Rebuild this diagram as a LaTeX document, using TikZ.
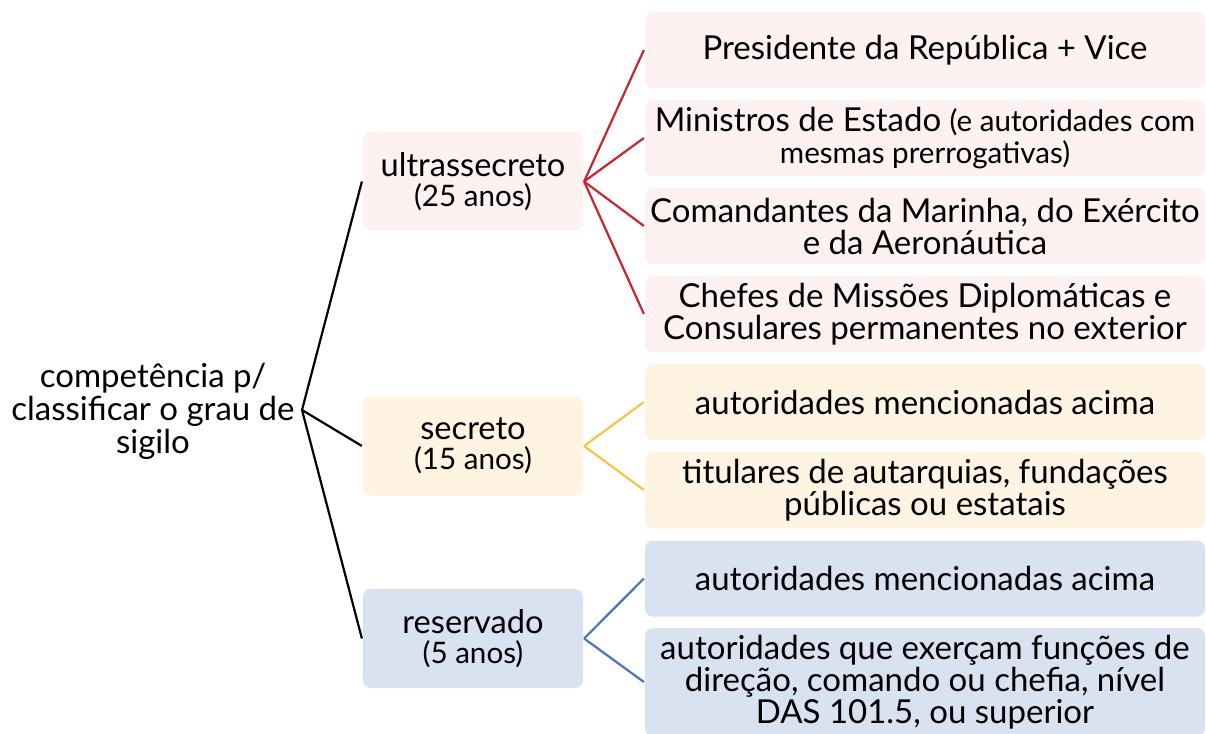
\documentclass[tikz,border=0pt]{standalone}
\usepackage{fontspec}
\setmainfont{Lato}
\usetikzlibrary{positioning}
\definecolor{pinkfill}{HTML}{FDF1F1}
\definecolor{yellowfill}{HTML}{FEF4E1}
\definecolor{bluefill}{HTML}{D9E2F0}
\definecolor{redline}{HTML}{C8262C}
\definecolor{yellowline}{HTML}{F4C443}
\definecolor{blueline}{HTML}{4C72BE}
\newcommand{\smalltxt}{\fontsize{14.8}{15}\selectfont}
\tikzset{
  gradebox/.style={rounded corners=4pt, minimum width=110pt, minimum height=49.5pt, align=center, inner sep=0pt, font=\fontsize{16.3}{15}\selectfont},
  leafbox/.style={rounded corners=4pt, minimum width=280pt, minimum height=38pt, align=center, inner sep=0pt, font=\fontsize{16.5}{16}\selectfont},
}
\begin{document}
\begin{tikzpicture}[x=0.5pt,y=-0.5pt, line width=1.1pt]
		%%%%% START %%%%%
		\useasboundingbox (0, 0) rectangle (1206, 734);

		\node[align=center, font=\fontsize{16.5}{16.5}\selectfont] (root) at (153, 411) {competência p/\\classificar o grau de\\sigilo};
		\coordinate (fork) at (302, 410);

		\node[gradebox, fill=pinkfill] (ultra) at (473, 181.5) {ultrassecreto\\{\smalltxt (25 anos)}};
		\node[gradebox, fill=yellowfill] (secr) at (473, 446) {secreto\\{\smalltxt (15 anos)}};
		\node[gradebox, fill=bluefill] (reserv) at (473, 638.5) {reservado\\{\smalltxt (5 anos)}};

		\node[leafbox, fill=pinkfill] (pres) at (925, 50) {Presidente da República + Vice};
		\node[leafbox, fill=pinkfill] (minis) at (925, 138) {Ministros de Estado {\smalltxt (e autoridades com}\\{\smalltxt mesmas prerrogativas)}};
		\node[leafbox, fill=pinkfill] (coman) at (925, 226) {Comandantes da Marinha, do Exército\\e da Aeronáutica};
		\node[leafbox, fill=pinkfill] (chefes) at (925, 314) {Chefes de Missões Diplomáticas e\\Consulares permanentes no exterior};

		\node[leafbox, fill=yellowfill] (acimaA) at (925, 402) {autoridades mencionadas acima};
		\node[leafbox, fill=yellowfill] (titul) at (925, 490) {titulares de autarquias, fundações\\públicas ou estatais};

		\node[leafbox, fill=bluefill] (acimaB) at (925, 578.5) {autoridades mencionadas acima};
		\node[leafbox, fill=bluefill, minimum height=54pt] (dasniv) at (925, 682) {autoridades que exerçam funções de\\direção, comando ou chefia, nível\\DAS 101.5, ou superior};

		\draw (fork) -- (ultra.west);
		\draw (fork) -- (secr.west);
		\draw (fork) -- (reserv.west);

		\foreach \leaf in {pres, minis, coman, chefes}
			\draw[redline] (ultra.east) -- (\leaf.west);
		\foreach \leaf in {acimaA, titul}
			\draw[yellowline] (secr.east) -- (\leaf.west);
		\foreach \leaf in {acimaB, dasniv}
			\draw[blueline] (reserv.east) -- (\leaf.west);
		%%%%% END %%%%%
\end{tikzpicture}
\end{document}
